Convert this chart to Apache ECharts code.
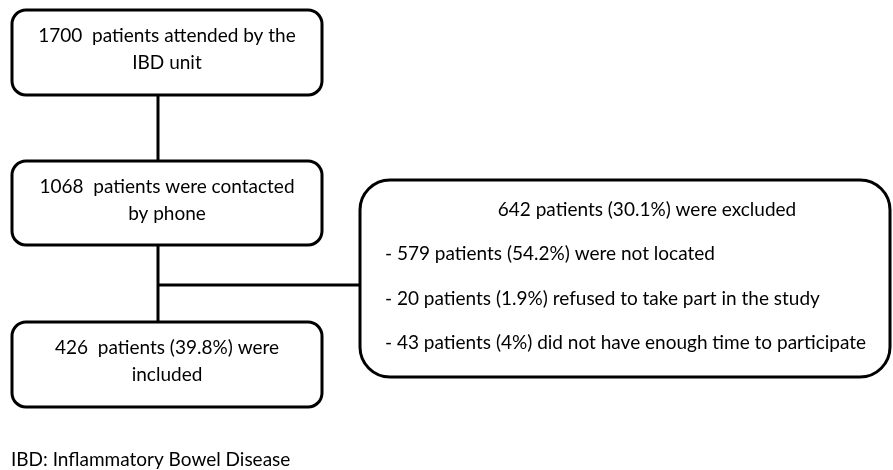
<!DOCTYPE html>
<html><head><meta charset="utf-8">
<script src="https://cdn.jsdelivr.net/npm/echarts@6/dist/echarts.min.js"></script>
<style>html,body{margin:0;padding:0;background:#fff}#c{width:893px;height:470px}</style>
</head><body><div id="c"></div>
<script>
const stepLines = [
  ["1700  patients attended by the", "IBD unit"],
  ["1068  patients were contacted", "by phone"],
  ["426  patients (39.8%) were", "included"]
];
const excludedTitle = "642 patients (30.1%) were excluded";
const excludedItems = [
  "- 579 patients (54.2%) were not located",
  "- 20 patients (1.9%) refused to take part in the study",
  "- 43 patients (4%) did not have enough time to participate"
];
const footnote = "IBD: Inflammatory Bowel Disease";

const FONT = 'Lato';
const FS = 19;
const LW = 3;
const boxes = [ {x:12,y:10,w:310,h:85}, {x:12,y:161,w:310,h:84}, {x:12,y:322,w:310,h:85} ];
const g = [];
boxes.forEach((b,i)=>{
  g.push({type:'rect', shape:{x:b.x,y:b.y,width:b.w,height:b.h,r:14}, style:{fill:'#fff',stroke:'#000',lineWidth:LW}});
  stepLines[i].forEach((t,j)=>{
    g.push({type:'text', x:b.x+b.w/2, y:b.y+26+j*27, style:{text:t,font:FS+'px '+FONT,fill:'#000',align:'center',verticalAlign:'middle'}});
  });
});
const cx = 158;
g.push({type:'line', shape:{x1:cx,y1:95,x2:cx,y2:161}, style:{stroke:'#000',lineWidth:LW}});
g.push({type:'line', shape:{x1:cx,y1:245,x2:cx,y2:322}, style:{stroke:'#000',lineWidth:LW}});
g.push({type:'line', shape:{x1:cx,y1:285,x2:360,y2:285}, style:{stroke:'#000',lineWidth:LW}});
g.push({type:'rect', shape:{x:360,y:180,width:530,height:197,r:30}, style:{fill:'#fff',stroke:'#000',lineWidth:LW}});
g.push({type:'text', x:647, y:210, style:{text:excludedTitle,font:FS+'px '+FONT,fill:'#000',align:'center',verticalAlign:'middle'}});
excludedItems.forEach((t,j)=>{
  g.push({type:'text', x:385, y:254+j*44.5, style:{text:t,font:FS+'px '+FONT,fill:'#000',align:'left',verticalAlign:'middle'}});
});
g.push({type:'text', x:11, y:460, style:{text:footnote,font:FS+'px '+FONT,fill:'#000',align:'left',verticalAlign:'middle'}});

const chart = echarts.init(document.getElementById('c'), null, {renderer:'canvas'});
chart.setOption({animation:false, graphic:{elements:g}});
</script></body></html>
